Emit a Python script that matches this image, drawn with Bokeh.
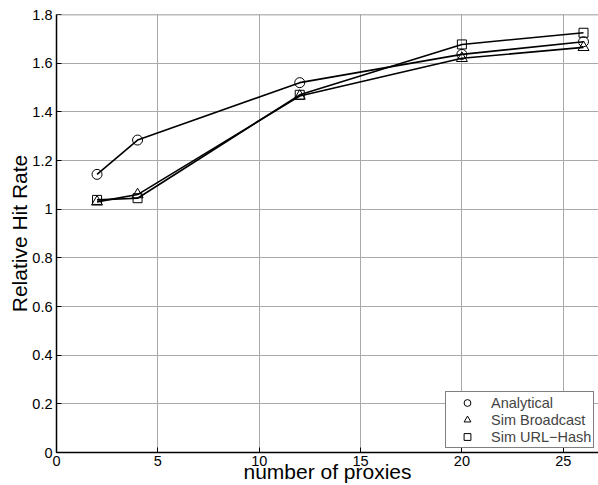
from bokeh.plotting import figure
from bokeh.models import FixedTicker, Span, Legend, LegendItem, Range1d
from bokeh.embed import file_html
from bokeh.resources import INLINE

proxies = [2, 4, 12, 20, 26]
analytical = [1.143, 1.284, 1.52, 1.636, 1.688]
sim_broadcast = [1.03, 1.06, 1.465, 1.62, 1.665]
sim_urlhash = [1.038, 1.045, 1.47, 1.677, 1.725]

x_ticks = [0, 5, 10, 15, 20, 25]
y_ticks = [0, 0.2, 0.4, 0.6, 0.8, 1.0, 1.2, 1.4, 1.6, 1.8]
y_tick_labels = ["0", "0.2", "0.4", "0.6", "0.8", "1", "1.2", "1.4", "1.6", "1.8"]

FONT = "Liberation Sans"

p = figure(width=598, height=485, output_backend="svg", toolbar_location=None,
           x_range=Range1d(0, 26.74), y_range=Range1d(0, 1.8),
           min_border_top=14, min_border_right=0, min_border_left=56, min_border_bottom=33)
p.outline_line_color = None
p.background_fill_color = "white"

for ax in (p.xaxis[0], p.yaxis[0]):
    ax.axis_line_color = "black"
    ax.axis_line_width = 1.5
    ax.major_tick_in = 5
    ax.major_tick_out = 0
    ax.minor_tick_line_color = None
    ax.major_tick_line_color = "black"
    ax.major_label_text_font = FONT
    ax.major_label_text_font_size = "14.5px"
    ax.major_label_text_color = "black"
    ax.axis_label_text_font = FONT
    ax.axis_label_text_font_style = "normal"
    ax.axis_label_text_font_size = "21px"
    ax.axis_label_text_color = "black"

p.xaxis[0].ticker = FixedTicker(ticks=x_ticks)
p.yaxis[0].ticker = FixedTicker(ticks=y_ticks)
p.yaxis[0].major_label_overrides = {t: l for t, l in zip(y_ticks, y_tick_labels)}
p.xaxis[0].axis_label = "number of proxies"
p.yaxis[0].axis_label = "Relative Hit Rate"
p.xaxis[0].major_label_standoff = 3
p.xaxis[0].axis_label_standoff = -9
p.yaxis[0].major_label_standoff = 4
p.yaxis[0].axis_label_standoff = -2

p.xgrid[0].ticker = FixedTicker(ticks=x_ticks)
p.ygrid[0].ticker = FixedTicker(ticks=y_ticks)
for g in (p.xgrid[0], p.ygrid[0]):
    g.grid_line_color = "#aaaaaa"
    g.grid_line_width = 1

p.add_layout(Span(location=1.8, dimension="width", line_color="#777777", line_width=1.5))

series = [
    (analytical, "circle", 10, "Analytical"),
    (sim_broadcast, "triangle", 11, "Sim Broadcast"),
    (sim_urlhash, "square", 9, "Sim URL\u2212Hash"),
]
items = []
for ys, marker, sz, name in series:
    p.line(proxies, ys, line_color="black", line_width=1.6)
    r = p.scatter(proxies, ys, marker=marker, size=sz, fill_color="white",
                  fill_alpha=0, line_color="black", line_width=1)
    items.append(LegendItem(label=name, renderers=[r]))

legend = Legend(items=items, location=(389, 4))
legend.label_text_font = FONT
legend.label_text_font_size = "14.5px"
legend.glyph_width = 38
legend.glyph_height = 17
legend.label_height = 17
legend.label_standoff = 5
legend.padding = 2
legend.spacing = 0
legend.margin = 0
legend.border_line_color = "black"
legend.border_line_width = 1
legend.background_fill_alpha = 1
p.add_layout(legend, "center")

open("out.html", "w").write(file_html(p, INLINE))
